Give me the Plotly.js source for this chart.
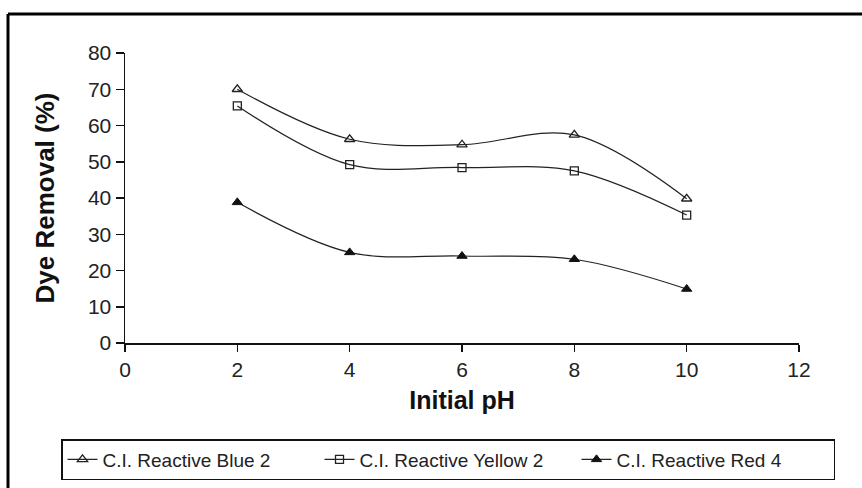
<!DOCTYPE html>
<html>
<head>
<meta charset="utf-8">
<script src="https://cdn.plot.ly/plotly-3.0.1.min.js"></script>
<style>
html,body{margin:0;padding:0;background:#fff;}
#chart{width:862px;height:488px;}
</style>
</head>
<body>
<div id="chart"></div>
<script>
const initialPH = [2, 4, 6, 8, 10];
const blue2 = [70.0, 56.2, 54.7, 57.4, 39.8];
const yellow2 = [65.4, 49.2, 48.4, 47.5, 35.3];
const red4 = [38.8, 25.0, 24.0, 23.1, 14.9];
const seriesNames = ["C.I. Reactive Blue 2", "C.I. Reactive Yellow 2", "C.I. Reactive Red 4"];
const xTicks = [0, 2, 4, 6, 8, 10, 12];
const yTicks = [0, 10, 20, 30, 40, 50, 60, 70, 80];

const lineStyle = {color: '#222', width: 1.2, shape: 'spline', smoothing: 1};
const traces = [
  {x: initialPH, y: blue2, name: seriesNames[0], mode: 'lines+markers', line: lineStyle,
   marker: {symbol: 'triangle-up-open', size: 9, color: '#222', line: {width: 1.3, color: '#222'}}},
  {x: initialPH, y: yellow2, name: seriesNames[1], mode: 'lines+markers', line: lineStyle,
   marker: {symbol: 'square-open', size: 8, color: '#222', line: {width: 1.3, color: '#222'}}},
  {x: initialPH, y: red4, name: seriesNames[2], mode: 'lines+markers', line: lineStyle,
   marker: {symbol: 'triangle-up', size: 9, color: '#111', line: {width: 1, color: '#111'}}}
];

const L = 125, R = 63, T = 53, B = 145, W = 862, H = 488;
const pw = W - L - R, ph = H - T - B;
const px = v => (v - L) / pw;
const py = v => 1 - (v - T) / ph;

const layout = {
  width: W, height: H,
  margin: {l: L, r: R, t: T, b: B, autoexpand: false},
  paper_bgcolor: '#fff', plot_bgcolor: '#fff',
  font: {family: 'Liberation Sans, Arial, sans-serif', color: '#111'},
  showlegend: true,
  legend: {
    orientation: 'h', x: px(61), xanchor: 'left', y: py(480), yanchor: 'bottom',
    bordercolor: '#111', borderwidth: 1.5, bgcolor: '#fff',
    font: {size: 19, color: '#222', family: 'Liberation Sans, Arial, sans-serif'},
    traceorder: 'normal', itemclick: false, tracegroupgap: 0,
    entrywidth: 212, entrywidthmode: 'pixels'
  },
  xaxis: {
    range: [0, 12], tickvals: xTicks, ticktext: xTicks.map(String),
    showgrid: false, zeroline: false, showline: true, linecolor: '#111', linewidth: 1.5,
    ticks: 'outside', ticklen: 7, tickwidth: 1.5, tickcolor: '#111',
    tickfont: {size: 21, family: 'Liberation Sans, Arial, sans-serif', color: '#222'},
    title: {text: '<b>Initial pH</b>', font: {size: 25, color: '#111'}, standoff: 12}
  },
  yaxis: {
    range: [0, 80], tickvals: yTicks, ticktext: yTicks.map(String),
    showgrid: false, zeroline: false, showline: true, linecolor: '#111', linewidth: 1.5,
    ticks: 'outside', ticklen: 8, tickwidth: 1.5, tickcolor: '#111',
    tickfont: {size: 21, family: 'Liberation Sans, Arial, sans-serif', color: '#222'},
    title: {text: '<b>Dye Removal (%)</b>', font: {size: 26, color: '#111'}, standoff: 26}
  },
  shapes: [
    {type: 'line', xref: 'paper', yref: 'paper', x0: px(8), x1: px(870), y0: py(14), y1: py(14),
     line: {color: '#000', width: 3}},
    {type: 'line', xref: 'paper', yref: 'paper', x0: px(8), x1: px(8), y0: py(14), y1: py(500),
     line: {color: '#000', width: 3}}
  ]
};

Plotly.newPlot('chart', traces, layout, {displayModeBar: false, staticPlot: true});
</script>
</body>
</html>
